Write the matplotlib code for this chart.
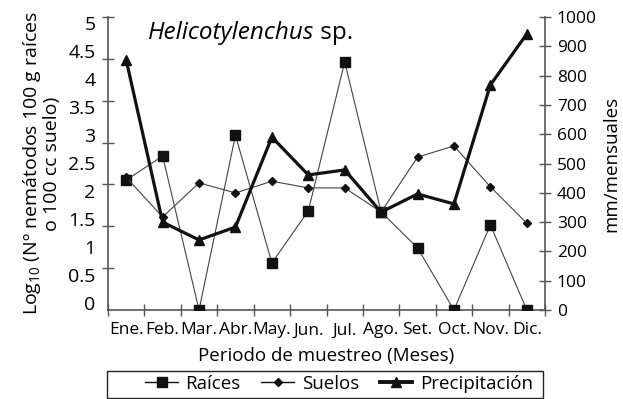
import numpy as np
import matplotlib
matplotlib.use("Agg")
import matplotlib.pyplot as plt
from matplotlib.lines import Line2D
from matplotlib.patches import Rectangle

plt.rcParams["font.family"] = ["Open Sans", "DejaVu Sans"]
plt.rcParams["mathtext.fontset"] = "custom"
plt.rcParams["mathtext.rm"] = "Open Sans"
plt.rcParams["mathtext.it"] = "Open Sans:italic"

months = ["Ene.", "Feb.", "Mar.", "Abr.", "May.", "Jun.", "Jul.", "Ago.",
          "Set.", "Oct.", "Nov.", "Dic."]
raices = [2.32, 2.75, 0.0, 3.12, 0.84, 1.77, 4.43, 1.75, 1.11, 0.0, 1.52, 0.0]
suelos = [2.37, 1.66, 2.27, 2.09, 2.30, 2.18, 2.18, 1.75, 2.73, 2.93, 2.20, 1.55]
precipitacion = [853, 300, 239, 283, 590, 461, 478, 334, 396, 362, 768, 942]
left_labels = ["0", "0.5", "1", "1.5", "2", "2.5", "3", "3.5", "4", "4.5", "5"]
right_ticks = list(range(0, 1001, 100))

W, H = 623, 399
fig = plt.figure(figsize=(W / 100, H / 100), dpi=100)
ax = fig.add_axes([108 / W, 1 - 310 / H, (545 - 108) / W, (310 - 17) / H])
ax2 = ax.twinx()

axis_col = "#555555"
x = np.arange(len(months))

ax.plot(x, raices, color="#444444", lw=0.8, marker="s", ms=6.5,
        mfc="#111111", mec="#111111", zorder=3)
ax.plot(x, suelos, color="#444444", lw=0.8, marker="D", ms=4,
        mfc="#111111", mec="#111111", zorder=3)
ax2.plot(x, precipitacion, color="#111111", lw=2.3, marker="^", ms=7,
         mfc="#111111", mec="#111111", zorder=3)

ymax = 293 / 56
ax.set_ylim(0, ymax)
ax.set_xlim(-0.5, len(months) - 0.5)
ax2.set_ylim(0, 1000)

# left axis: labelled values plus evenly spaced tick marks
ax.set_yticks(np.arange(0, 5.01, 0.5), left_labels, va="baseline")
ax.tick_params(axis="y", which="major", length=0, pad=9, labelsize=14)
ax.set_yticks(np.linspace(0, ymax, 8), minor=True)
ax.tick_params(axis="y", which="minor", length=9, direction="inout",
               width=1.0, color=axis_col)

ax2.set_yticks(right_ticks)
ax2.tick_params(axis="y", length=9, direction="inout", width=1.0,
                color=axis_col, labelsize=12.5, pad=4)

ax.set_xticks(x, months)
ax.set_xticks(np.arange(-0.5, len(months), 1.0), minor=True)
ax.tick_params(axis="x", which="major", length=0, labelsize=12.5, pad=9)
ax.tick_params(axis="x", which="minor", length=9, direction="inout",
               width=1.0, color=axis_col)

for a in (ax, ax2):
    a.spines["top"].set_visible(False)
    for s in ("left", "right", "bottom"):
        a.spines[s].set_color(axis_col)
        a.spines[s].set_linewidth(1.2)
ax.spines["right"].set_visible(False)
ax2.spines["left"].set_visible(False)
ax2.spines["bottom"].set_visible(False)

ax.set_xlabel("Periodo de muestreo (Meses)", fontsize=13.5, labelpad=6)
ax.set_ylabel("Log$_{10}$ (Nº nemátodos 100 g raíces\no 100 cc suelo)",
              fontsize=14, labelpad=5, linespacing=1.0)
ax2.set_ylabel("mm/mensuales", fontsize=13.5, labelpad=4)

t1 = ax.text(148 / W, 1 - 39 / H, "Helicotylenchus", transform=fig.transFigure,
             fontsize=17.5, style="italic", va="baseline", ha="left")
ax.annotate(" sp.", xy=(1, 0), xycoords=t1, fontsize=17.5, va="bottom",
            ha="left")

# legend box below the plot, entries centred inside it
fig.add_artist(Rectangle((107 / W, 1 / H), 436 / W, 27 / H,
                         transform=fig.transFigure, fill=False,
                         edgecolor="#222222", lw=1.0))
handles = [
    Line2D([], [], color="#111111", lw=1.0, marker="s", ms=7),
    Line2D([], [], color="#111111", lw=1.0, marker="D", ms=4),
    Line2D([], [], color="#111111", lw=2.8, marker="^", ms=7),
]
fig.legend(handles, ["Raíces", "Suelos", "Precipitación"], ncol=3,
           loc="center", bbox_to_anchor=(339 / W, 1 - 384 / H),
           frameon=False, fontsize=13.5, handlelength=1.75,
           handletextpad=0.4, columnspacing=1.1, borderpad=0,
           borderaxespad=0)

fig.savefig("out.png", dpi=100)
